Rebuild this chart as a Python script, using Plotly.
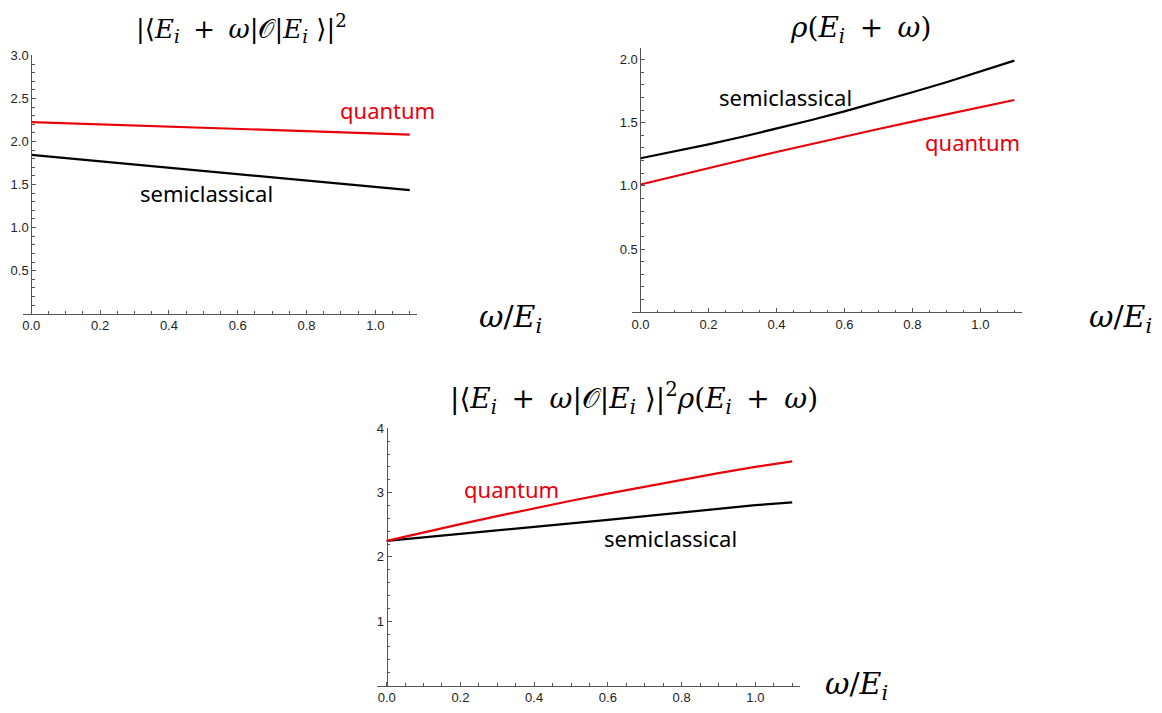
import plotly.graph_objects as go

# page body has an 8px default margin; figure fills the rest of the 1162x713 window
PAGE_W, PAGE_H = 1162, 713
OFF = 8
W, H = PAGE_W - 2 * OFF, PAGE_H - 2 * OFF

# ---------------- data ----------------
omega = [0.0, 0.1, 0.2, 0.3, 0.4, 0.5, 0.6, 0.7, 0.8, 0.9, 1.0, 1.1]

# panel 1: |<E_i+w|O|E_i>|^2
p1_quantum = [2.226, 2.213, 2.199, 2.186, 2.173, 2.160, 2.146, 2.133, 2.120, 2.107, 2.093, 2.080]
p1_semi = [1.845, 1.808, 1.770, 1.733, 1.696, 1.659, 1.621, 1.584, 1.547, 1.510, 1.472, 1.435]

# panel 2: rho(E_i+w)
p2_semi = [1.219, 1.273, 1.329, 1.389, 1.453, 1.520, 1.590, 1.664, 1.741, 1.821, 1.905, 1.992]
p2_quantum = [1.011, 1.077, 1.141, 1.205, 1.268, 1.330, 1.390, 1.450, 1.509, 1.567, 1.624, 1.680]

# panel 3: product
p3_quantum = [2.250, 2.383, 2.509, 2.634, 2.755, 2.873, 2.983, 3.093, 3.199, 3.302, 3.399, 3.485]
p3_semi = [2.249, 2.302, 2.352, 2.407, 2.464, 2.522, 2.577, 2.636, 2.693, 2.750, 2.804, 2.848]

x_ticks = [0.0, 0.2, 0.4, 0.6, 0.8, 1.0]
y1_ticks = [0.5, 1.0, 1.5, 2.0, 2.5, 3.0]
y2_ticks = [0.5, 1.0, 1.5, 2.0]
y3_ticks = [1, 2, 3, 4]

RED = "#e8000b"
BLACK = "#000000"
AXC = "#555555"
TICKFONT = dict(family="Liberation Sans, Arial, sans-serif", size=13, color="#222222")
LABELFONT = "Noto Sans, Open Sans, sans-serif"
MATHFONT = "DejaVu Serif, Liberation Serif, serif"


def px2paper_x(px):
    return (px - OFF) / W


def px2paper_y(py):
    return 1 - (py - OFF) / H


fig = go.Figure()

panels = [
    ("x", "y", p1_quantum, p1_semi),
    ("x2", "y2", p2_quantum, p2_semi),
    ("x3", "y3", p3_quantum, p3_semi),
]
for xa, ya, q, s in panels:
    fig.add_trace(go.Scatter(x=omega, y=s, mode="lines", line=dict(color=BLACK, width=2.2),
                             xaxis=xa, yaxis=ya, showlegend=False, hoverinfo="skip"))
    fig.add_trace(go.Scatter(x=omega, y=q, mode="lines", line=dict(color=RED, width=2.2),
                             xaxis=xa, yaxis=ya, showlegend=False, hoverinfo="skip"))

xr = [-0.025, 1.122]


def xaxis_cfg(domain, anchor):
    return dict(domain=domain, anchor=anchor, range=xr, showline=True, linecolor=AXC, linewidth=1,
                ticks="inside", ticklen=4, tickcolor=AXC, tickvals=x_ticks, tickformat=".1f",
                tickfont=TICKFONT, showgrid=False, zeroline=False,
                minor=dict(tickmode="linear", tick0=0, dtick=0.05, ticks="inside", ticklen=2.5,
                           tickcolor=AXC, showgrid=False))


def yaxis_cfg(domain, rng, pos, tickvals, fmt, mdt):
    return dict(domain=domain, anchor="free", position=pos, range=rng, showline=True, linecolor=AXC,
                linewidth=1, ticks="inside", ticklen=4, tickcolor=AXC, tickvals=tickvals, tickformat=fmt,
                tickfont=TICKFONT, showgrid=False, zeroline=False,
                minor=dict(tickmode="linear", tick0=0, dtick=mdt, ticks="inside", ticklen=2.5,
                           tickcolor=AXC, showgrid=False))


fig.update_layout(
    width=W, height=H, margin=dict(l=0, r=0, t=0, b=0),
    paper_bgcolor="white", plot_bgcolor="white", showlegend=False,
    xaxis=xaxis_cfg([px2paper_x(21.7), px2paper_x(416.7)], "y"),
    yaxis=yaxis_cfg([px2paper_y(311), px2paper_y(49)], [0, 3.0], px2paper_x(30.3), y1_ticks, ".1f", 0.1),
    xaxis2=xaxis_cfg([px2paper_x(631.6), px2paper_x(1021.7)], "y2"),
    yaxis2=yaxis_cfg([px2paper_y(309.5), px2paper_y(41.7)], [0, 2.09], px2paper_x(640), y2_ticks, ".1f", 0.1),
    xaxis3=xaxis_cfg([px2paper_x(376.8), px2paper_x(800)], "y3"),
    yaxis3=yaxis_cfg([px2paper_y(688.3), px2paper_y(427.3)], [0, 4.0], px2paper_x(386), y3_ticks, "d", 0.2),
)

# curve labels
labels = [
    ("x", "y", 1.035, 2.37, "quantum", RED),
    ("x", "y", 0.51, 1.40, "semiclassical", BLACK),
    ("x2", "y2", 0.426, 1.706, "semiclassical", BLACK),
    ("x2", "y2", 0.976, 1.347, "quantum", RED),
    ("x3", "y3", 0.339, 3.05, "quantum", RED),
    ("x3", "y3", 0.77, 2.30, "semiclassical", BLACK),
]
for xa, ya, lx, ly, txt, col in labels:
    fig.add_annotation(x=lx, y=ly, xref=xa, yref=ya, text=txt, showarrow=False,
                       font=dict(family=LABELFONT, size=22, color=col))

# titles and axis labels (math-style text)
SP = "\u2009"
bra_ket = ("|⟨<i>E</i><sub><i>i</i></sub>" + SP + " + " + SP + "<i>ω</i>|𝒪|<i>E</i><sub><i>i</i></sub> ⟩|"
           "<sup>2</sup>")
rho = "<i>ρ</i>(<i>E</i><sub><i>i</i></sub>" + SP + " + " + SP + "<i>ω</i>)"
wlab = "<i>ω</i>/<i>E</i><sub><i>i</i></sub>"
texts = [
    (241, 22, bra_ket, 26),
    (860, 23, rho, 28),
    (634, 397, bra_ket + rho, 28),
    (510, 316, wlab, 30),
    (1120, 316, wlab, 30),
    (856, 688, wlab, 30),
]
for cx, cy, t, fs in texts:
    fig.add_annotation(x=px2paper_x(cx), y=px2paper_y(cy), xref="paper", yref="paper", text=t,
                       showarrow=False, xanchor="center", yanchor="middle",
                       font=dict(family=MATHFONT, size=fs, color="black"))

fig.write_html("out.html")
